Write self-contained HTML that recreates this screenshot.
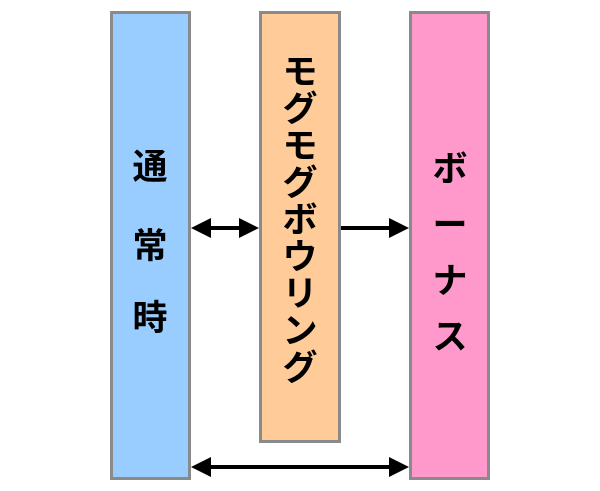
<!DOCTYPE html>
<html><head><meta charset="utf-8"><style>
body{margin:0;width:600px;height:491px;background:#fff;overflow:hidden;position:relative;font-family:"Liberation Sans","Noto Sans CJK JP",sans-serif;}
.b{position:absolute;box-sizing:border-box;border:3px solid #8a8a8a;}
.t{position:absolute;font-weight:bold;font-size:35px;color:#000;text-align:center;width:44px;line-height:1;}
</style></head><body>
<div class="b" style="left:110px;top:11px;width:81px;height:469px;background:#99ccff"></div>
<div class="b" style="left:259px;top:11px;width:82px;height:432px;background:#ffcc99"></div>
<div class="b" style="left:409px;top:11px;width:81px;height:469px;background:#ff99cc"></div>
<div class="t" style="left:128px;top:150px">通</div>
<div class="t" style="left:128px;top:229px">常</div>
<div class="t" style="left:128px;top:301px">時</div>
<div class="t" style="left:278px;top:54px;line-height:37px">モ<br>グ<br>モ<br>グ<br>ボ<br>ウ<br>リ<br>ン<br>グ</div>
<div class="t" style="left:428px;top:142px;line-height:56px">ボ<br>ー<br>ナ<br>ス</div>
<svg width="600" height="491" style="position:absolute;left:0;top:0">
<g stroke="#000" stroke-width="4" fill="#000">
<line x1="205" y1="228" x2="245" y2="228"/>
<line x1="341" y1="228" x2="395" y2="228"/>
<line x1="205" y1="467" x2="395" y2="467"/>
</g>
<g fill="#000">
<polygon points="191,228 211,218 211,238"/>
<polygon points="259,228 239,218 239,238"/>
<polygon points="409,228 389,218 389,238"/>
<polygon points="191,467 211,457 211,477"/>
<polygon points="409,467 389,457 389,477"/>
</g>
</svg>
</body></html>
